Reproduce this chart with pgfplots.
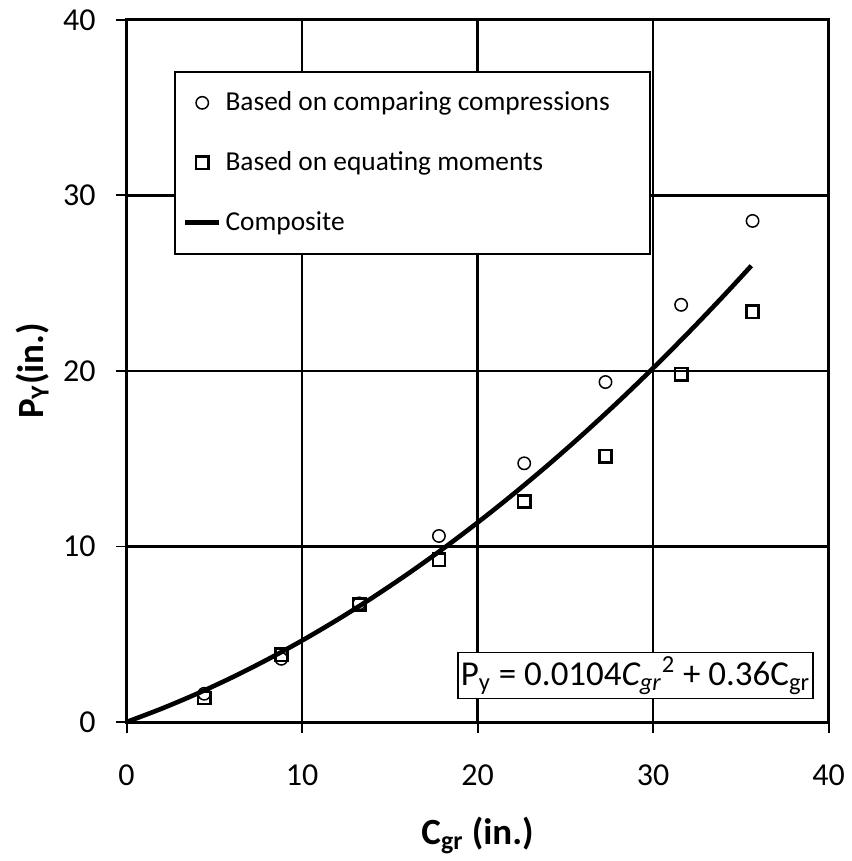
\documentclass[border=0pt]{standalone}
\usepackage{fontspec}
\setmainfont{Carlito}
\usepackage{pgfplots}
\pgfplotsset{compat=1.18}
\begin{document}
\begin{tikzpicture}
\begin{axis}[
  at={(0,0)}, anchor=south west,
  scale only axis, width=351.5pt, height=351.5pt,
  xmin=0, xmax=40, ymin=0, ymax=40,
  xtick={0,10,20,30,40}, ytick={0,10,20,30,40},
  grid=major, major grid style={black, line width=1.1pt},
  axis line style={black, line width=1.5pt},
  tick style={black, line width=1pt}, major tick length=5.5pt,
  tick align=outside, xtick pos=bottom, ytick pos=left,
  /pgf/number format/assume math mode=true,
  ticklabel style={font=\fontsize{16}{19}\selectfont},
  xticklabel style={yshift=-12.5pt},
  yticklabel style={xshift=-6.5pt},
  xlabel={\textbf{C\textsubscript{gr} (in.)}},
  ylabel={\textbf{P\textsubscript{Y}(in.)}},
  xlabel style={at={(rel axis cs:0.5,0)}, anchor=center, yshift=-57pt, font=\fontsize{18.5}{22}\selectfont},
  ylabel style={at={(rel axis cs:0,0.5)}, anchor=center, yshift=47pt, font=\fontsize{18.5}{22}\selectfont},
  legend style={at={(axis cs:2.7,37.1)}, anchor=north west, draw=black, line width=1pt, fill=white,
    font=\fontsize{13.7}{16}\selectfont, row sep=15pt, inner xsep=4pt, inner ysep=8pt},
  legend cell align=left,
]
\addplot[only marks, mark=o, mark size=3.1pt, mark options={black, line width=0.75pt}] coordinates {
 (4.43,1.61) (8.82,3.60) (13.26,6.76) (17.80,10.60) (22.66,14.74) (27.29,19.37) (31.60,23.77) (35.67,28.55)};
\addlegendentry{Based on comparing compressions\rule{14pt}{0pt}}
\addplot[only marks, mark=square, mark size=3.05pt, mark options={black, line width=1.3pt}] coordinates {
 (4.43,1.37) (8.82,3.83) (13.26,6.70) (17.80,9.24) (22.66,12.56) (27.29,15.14) (31.60,19.82) (35.67,23.37)};
\addlegendentry{Based on equating moments}
\addplot[black, line width=2.3pt, mark=none, smooth] coordinates {
 (0,0) (2,0.7616) (4,1.6064) (6,2.5344) (8,3.5456) (10,4.64) (12,5.8176) (14,7.0784) (16,8.4224)
 (18,9.8496) (20,11.36) (22,12.9536) (24,14.6304) (26,16.3904) (28,18.2336) (30,20.16)
 (32,22.1696) (34,24.2624) (35.6,25.9965)};
\addlegendentry{Composite}
\node[draw=black, line width=0.75pt, fill=white, inner xsep=1.5pt, inner ysep=2pt, font=\fontsize{17.5}{20}\selectfont]
  at (axis cs:29.0,2.65) {P\textsubscript{y} = 0.0104\textit{C\textsubscript{gr}}\textsuperscript{2} + 0.36C\textsubscript{gr}};
\end{axis}
\path[use as bounding box] (-63.35pt,-68pt) rectangle (361.15pt,361.5pt);
\end{tikzpicture}
\end{document}
